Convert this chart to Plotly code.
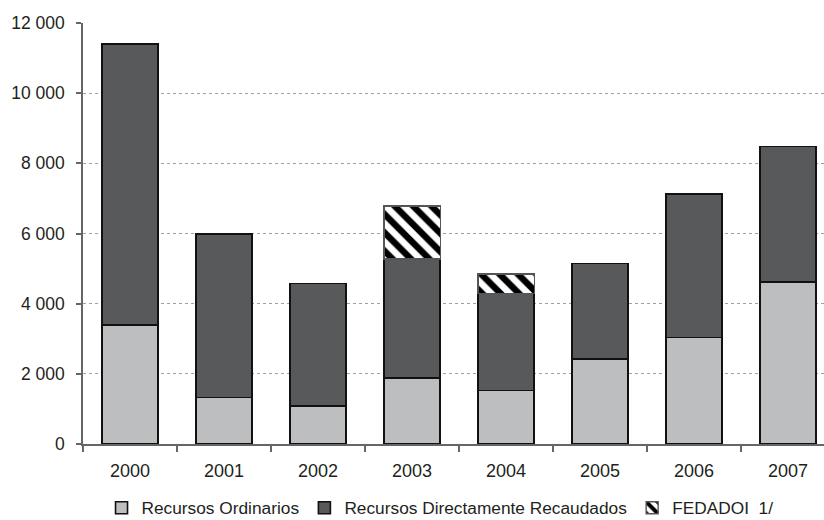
import plotly.graph_objects as go

# Years on the category axis
years = ["2000", "2001", "2002", "2003", "2004", "2005", "2006", "2007"]

# Stacked components (thousands of soles)
recursos_ordinarios = [3390, 1330, 1085, 1880, 1530, 2415, 3040, 4625]
recursos_directos = [8020, 4660, 3495, 3390, 2755, 2735, 4090, 3850]
fedadoi = [None, None, None, 1510, 560, None, None, None]

# Y-axis ticks
y_ticks = [0, 2000, 4000, 6000, 8000, 10000, 12000]

FONT = "Liberation Sans, Arial, sans-serif"
TEXT = "#231F20"

fig = go.Figure()

fig.add_trace(go.Bar(
    x=years, y=recursos_ordinarios, name="Recursos Ordinarios",
    marker=dict(color="#BDBEC0", line=dict(color="#111111", width=1.6)),
))
fig.add_trace(go.Bar(
    x=years, y=recursos_directos, name="Recursos Directamente Recaudados",
    marker=dict(color="#58595B", line=dict(color="#111111", width=1.6)),
))
fig.add_trace(go.Bar(
    x=years, y=fedadoi, name="FEDADOI  1/",
    marker=dict(
        color="white",
        line=dict(color="#555555", width=1.4),
        pattern=dict(shape="\\", fgcolor="#000000", bgcolor="white",
                     fgopacity=1, size=13, solidity=0.5),
    ),
))

fig.update_layout(
    barmode="stack",
    bargap=0.4,
    width=824, height=520,
    margin=dict(l=83, r=0, t=23, b=76, autoexpand=False),
    paper_bgcolor="white", plot_bgcolor="white",
    separators=". ",
    font=dict(family=FONT, size=18, color=TEXT),
    showlegend=True,
    legend=dict(
        orientation="h", x=0.025, xanchor="left", y=-0.152, yanchor="middle",
        traceorder="normal", font=dict(family=FONT, size=17.3, color=TEXT),
        itemwidth=30,
    ),
)

fig.update_xaxes(
    type="category",
    range=[-0.5, 7.383],
    showline=True, linecolor="#666666", linewidth=1.5,
    ticks="outside", tickson="boundaries", ticklen=6, tickcolor="#666666",
    tickwidth=1.5, ticklabelstandoff=10,
    showgrid=False,
    tickfont=dict(family=FONT, size=18, color=TEXT),
)

fig.update_yaxes(
    range=[0, 12000],
    tickvals=y_ticks, tickformat=",d",
    showline=True, linecolor="#666666", linewidth=1.5,
    ticks="outside", ticklen=5, tickcolor="#666666", tickwidth=1.5,
    ticklabelstandoff=8,
    showgrid=True, gridcolor="#A0A0A0", griddash="dot", gridwidth=1,
    zeroline=False,
    tickfont=dict(family=FONT, size=17.5, color=TEXT),
)

fig.write_html("out.html")
